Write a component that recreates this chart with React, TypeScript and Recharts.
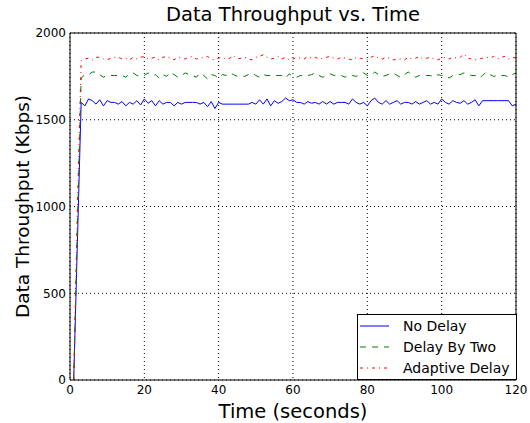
import { LineChart, Line, XAxis, YAxis, CartesianGrid, Legend } from 'recharts';

// seconds since start (one sample per second)
const times = Array.from({ length: 120 }, (_, i) => i + 1);

const noDelay = [
  0, 800, 1600, 1580, 1620, 1610, 1590, 1615, 1580, 1610,
  1600, 1600, 1590, 1605, 1580, 1600, 1590, 1610, 1585, 1620,
  1595, 1610, 1580, 1610, 1590, 1600, 1600, 1580, 1600, 1590,
  1600, 1600, 1600, 1600, 1590, 1600, 1575, 1605, 1565, 1600,
  1590, 1590, 1590, 1590, 1590, 1590, 1590, 1590, 1600, 1590,
  1615, 1590, 1620, 1580, 1610, 1595, 1605, 1625, 1610, 1615,
  1600, 1600, 1590, 1605, 1595, 1600, 1590, 1605, 1590, 1605,
  1590, 1600, 1600, 1600, 1590, 1620, 1600, 1590, 1600, 1580,
  1610, 1625, 1600, 1590, 1610, 1590, 1600, 1610, 1590, 1600,
  1600, 1590, 1605, 1590, 1600, 1610, 1590, 1600, 1590, 1620,
  1600, 1590, 1610, 1600, 1595, 1610, 1590, 1600, 1615, 1580,
  1610, 1610, 1610, 1610, 1610, 1610, 1610, 1610, 1580, 1590,
];

const delayByTwo = [
  0, 900, 1740, 1760, 1760, 1775, 1775, 1760, 1745, 1755,
  1755, 1755, 1755, 1755, 1745, 1765, 1770, 1755, 1750, 1755,
  1770, 1755, 1760, 1740, 1760, 1750, 1775, 1760, 1745, 1755,
  1770, 1760, 1755, 1745, 1770, 1755, 1735, 1760, 1755, 1740,
  1760, 1755, 1770, 1760, 1750, 1755, 1750, 1760, 1770, 1755,
  1745, 1760, 1755, 1755, 1755, 1755, 1755, 1740, 1765, 1750,
  1745, 1755, 1755, 1755, 1760, 1770, 1755, 1745, 1755, 1765,
  1755, 1760, 1755, 1745, 1760, 1755, 1750, 1760, 1770, 1755,
  1755, 1775, 1760, 1750, 1755, 1765, 1770, 1755, 1745, 1760,
  1775, 1760, 1745, 1755, 1760, 1755, 1755, 1745, 1760, 1755,
  1755, 1740, 1755, 1760, 1760, 1770, 1765, 1755, 1755, 1740,
  1755, 1775, 1760, 1750, 1755, 1755, 1755, 1745, 1760, 1770,
];

const adaptiveDelay = [
  0, 1000, 1840, 1850, 1855, 1845, 1860, 1860, 1850, 1845,
  1855, 1860, 1860, 1850, 1855, 1845, 1860, 1850, 1860, 1865,
  1850, 1855, 1860, 1845, 1860, 1865, 1855, 1845, 1860, 1855,
  1850, 1860, 1865, 1850, 1855, 1860, 1865, 1850, 1845, 1855,
  1860, 1850, 1855, 1870, 1850, 1855, 1860, 1850, 1845, 1860,
  1865, 1875, 1860, 1850, 1855, 1865, 1850, 1860, 1845, 1850,
  1860, 1855, 1850, 1865, 1855, 1860, 1850, 1855, 1860, 1865,
  1855, 1850, 1860, 1855, 1850, 1845, 1860, 1855, 1850, 1845,
  1860, 1870, 1855, 1850, 1860, 1855, 1845, 1850, 1850, 1845,
  1860, 1850, 1855, 1865, 1850, 1855, 1860, 1850, 1845, 1855,
  1860, 1850, 1860, 1855, 1860, 1880, 1855, 1850, 1845, 1850,
  1855, 1860, 1855, 1865, 1850, 1860, 1865, 1850, 1860, 1855,
];

const seriesNames = ['No Delay', 'Delay By Two', 'Adaptive Delay'];
const xTicks = [0, 20, 40, 60, 80, 100, 120];
const yTicks = [0, 500, 1000, 1500, 2000];

const data = times.map((t, i) => ({
  t,
  noDelay: noDelay[i],
  delayByTwo: delayByTwo[i],
  adaptiveDelay: adaptiveDelay[i],
}));

const font = "'DejaVu Sans', sans-serif";

function LegendBox(props: any) {
  const entries = [...(props.payload || [])].sort(
    (a: any, b: any) => seriesNames.indexOf(a.value) - seriesNames.indexOf(b.value)
  );
  return (
    <div
      style={{
        border: '1px solid #000',
        background: '#fff',
        width: 158,
        height: 64,
        fontFamily: font,
        fontSize: 14,
        boxSizing: 'content-box',
      }}
    >
      {entries.map((entry: any) => (
        <div key={entry.value} style={{ display: 'flex', alignItems: 'center', height: 21 }}>
          <svg width={45} height={10}>
            <line
              x1={2}
              x2={31}
              y1={5}
              y2={5}
              stroke={entry.color}
              strokeWidth={1}
              strokeDasharray={entry.payload?.strokeDasharray}
            />
          </svg>
          <span>{entry.value}</span>
        </div>
      ))}
    </div>
  );
}

export default function App() {
  return (
    <div style={{ position: 'absolute', left: 0, top: 0, width: 530, height: 423, background: '#fff' }}>
      <div
        style={{
          position: 'absolute',
          left: 70,
          width: 446,
          top: 3,
          textAlign: 'center',
          fontFamily: font,
          fontSize: 19.5,
          lineHeight: '24px',
        }}
      >
        Data Throughput vs. Time
      </div>
      <LineChart width={530} height={423} data={data} margin={{ top: 33, right: 14, bottom: 0, left: 20 }}>
        <CartesianGrid stroke="#000" strokeDasharray="1 3" />
        <XAxis
          dataKey="t"
          type="number"
          domain={[0, 120]}
          ticks={xTicks}
          height={43}
          axisLine={false}
          tickLine={false}
          tickSize={0}
          tickMargin={5}
          tick={{ fill: '#000', fontSize: 12, fontFamily: font }}
          label={{ value: 'Time (seconds)', position: 'insideBottom', offset: 5, fill: '#000', fontSize: 19.5, fontFamily: font }}
        />
        <YAxis
          type="number"
          domain={[0, 2000]}
          ticks={yTicks}
          width={50}
          axisLine={false}
          tickLine={false}
          tickSize={0}
          tickMargin={4}
          tick={{ fill: '#000', fontSize: 12, fontFamily: font }}
          label={{
            value: 'Data Throughput (Kbps)',
            angle: -90,
            position: 'insideLeft',
            offset: 2,
            fill: '#000',
            fontSize: 18.5,
            fontFamily: font,
            style: { textAnchor: 'middle' },
          }}
        />
        {/* frame with inward tick marks */}
        <XAxis xAxisId="bottomFrame" type="number" domain={[0, 120]} ticks={xTicks} orientation="bottom" mirror tick={false} tickSize={4} stroke="#000" />
        <XAxis xAxisId="topFrame" type="number" domain={[0, 120]} ticks={xTicks} orientation="top" mirror tick={false} tickSize={4} stroke="#000" />
        <YAxis yAxisId="leftFrame" type="number" domain={[0, 2000]} ticks={yTicks} orientation="left" mirror tick={false} tickSize={4} stroke="#000" />
        <YAxis yAxisId="rightFrame" type="number" domain={[0, 2000]} ticks={yTicks} orientation="right" mirror tick={false} tickSize={4} stroke="#000" />
        <Legend
          layout="vertical"
          align="center"
          verticalAlign="middle"
          content={<LegendBox />}
          wrapperStyle={{ left: 357, top: 314, width: 160, height: 66 }}
        />
        <Line name="No Delay" dataKey="noDelay" stroke="#0000ff" strokeWidth={1} dot={false} isAnimationActive={false} />
        <Line name="Delay By Two" dataKey="delayByTwo" stroke="#008000" strokeWidth={1} strokeDasharray="6 6" dot={false} isAnimationActive={false} />
        <Line name="Adaptive Delay" dataKey="adaptiveDelay" stroke="#ff0000" strokeWidth={1} strokeDasharray="3 4 1 4" dot={false} isAnimationActive={false} />
      </LineChart>
    </div>
  );
}
